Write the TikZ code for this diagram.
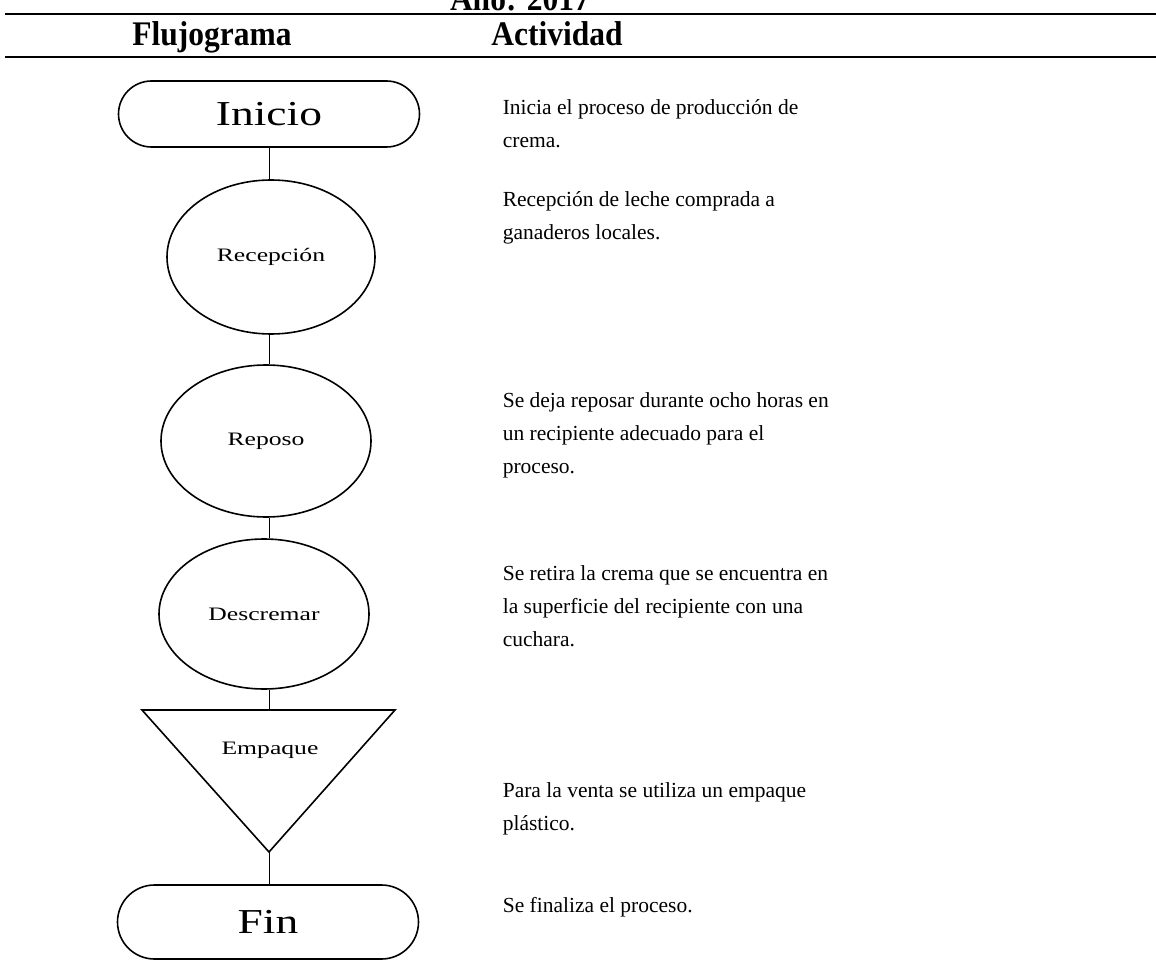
\documentclass[tikz,border=0pt]{standalone}
\usepackage{fontspec}
\setmainfont{Liberation Serif}
\usetikzlibrary{shapes.geometric}
\begin{document}
\begin{tikzpicture}[x=1pt,y=-1pt,line width=1.6pt,
  terminal/.style={draw,rectangle,rounded corners=33pt,minimum width=301pt,minimum height=66pt,inner sep=0pt,font=\fontsize{35}{40}\selectfont},
  proc/.style={draw,ellipse,minimum width=208pt,minimum height=154pt,inner sep=0pt,font=\fontsize{19}{22}\selectfont},
  lbl/.style={inner sep=0pt,font=\fontsize{19}{22}\selectfont},
  desc/.style={anchor=base west,inner sep=0pt,font=\fontsize{21.5}{33}\selectfont},
  head/.style={anchor=base,inner sep=0pt,font=\bfseries\fontsize{30}{34}\selectfont},
  rule/.style={line width=1.4pt},
  conn/.style={draw,line width=1pt}]
\useasboundingbox (0,0) rectangle (1156,968);
% header
\node[head] (anio) at (520,11) {\scalebox{1.05}[1.15]{Año: 2017}};
\coordinate (r1a) at (5,14); \coordinate (r1b) at (1156,14);
\coordinate (r2a) at (5,57); \coordinate (r2b) at (1156,57);
\draw[rule] (r1a) -- (r1b);
\draw[rule] (r2a) -- (r2b);
\node[head] (hflu) at (212,46) {\scalebox{1.05}[1.15]{Flujograma}};
\node[head] (hact) at (557,46) {\scalebox{1.05}[1.15]{Actividad}};
% flowchart
\node[terminal] (ini) at (269,114) {\scalebox{1.3}[1]{Inicio}};
\node[proc] (rec) at (271,257) {\scalebox{1.35}[1]{Recepción}};
\node[proc,minimum width=210pt,minimum height=152pt] (rep) at (266,441) {\scalebox{1.35}[1]{Reposo}};
\node[proc,minimum width=210pt,minimum height=150pt] (des) at (264,614) {\scalebox{1.35}[1]{Descremar}};
\coordinate (empTL) at (142,710);
\coordinate (empTR) at (395,710);
\coordinate (empTop) at (269,710);
\coordinate (empApex) at (269,852);
\draw[line join=miter] (empTL) -- (empTR) -- (empApex) -- cycle;
\node[lbl] (emp) at (270,750) {\scalebox{1.35}[1]{Empaque}};
\node[terminal,minimum height=74pt,rounded corners=37pt] (fin) at (268,922) {\scalebox{1.3}[1]{Fin}};
\draw[conn] (ini.south) -- (ini.south |- rec.north);
\draw[conn] (ini.south |- rec.south) -- (ini.south |- rep.north);
\draw[conn] (ini.south |- rep.south) -- (ini.south |- des.north);
\draw[conn] (ini.south |- des.south) -- (empTop);
\draw[conn] (empApex) -- (empApex |- fin.north);
% descriptions
\node[desc] (d1) at (502,115) {\vtop{\hbox{Inicia el proceso de producción de}\hbox{crema.}}};
\node[desc] (d2) at (502,207) {\vtop{\hbox{Recepción de leche comprada a}\hbox{ganaderos locales.}}};
\node[desc] (d3) at (502,407) {\vtop{\hbox{Se deja reposar durante ocho horas en}\hbox{un recipiente adecuado para el}\hbox{proceso.}}};
\node[desc] (d4) at (502,580) {\vtop{\hbox{Se retira la crema que se encuentra en}\hbox{la superficie del recipiente con una}\hbox{cuchara.}}};
\node[desc] (d5) at (502,797) {\vtop{\hbox{Para la venta se utiliza un empaque}\hbox{plástico.}}};
\node[desc] (d6) at (502,912) {Se finaliza el proceso.};
\end{tikzpicture}
\end{document}
